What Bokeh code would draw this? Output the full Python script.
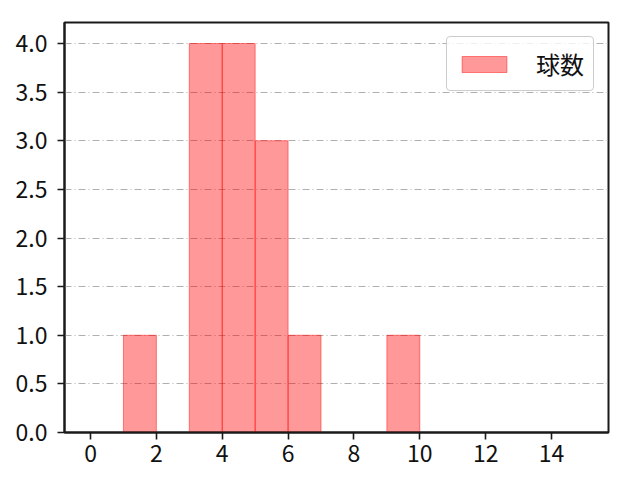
from bokeh.plotting import figure
from bokeh.models import Range1d, FixedTicker, Legend, LegendItem
from bokeh.embed import file_html
from bokeh.resources import INLINE

bin_left = [1, 3, 4, 5, 6, 9]
bin_right = [2, 4, 5, 6, 7, 10]
counts = [1, 4, 4, 3, 1, 1]
x_ticks = [0, 2, 4, 6, 8, 10, 12, 14]
y_ticks = [0.0, 0.5, 1.0, 1.5, 2.0, 2.5, 3.0, 3.5, 4.0]
label = "球数"

FONT = "Noto Sans CJK JP"

p = figure(width=630, height=470, output_backend="svg", toolbar_location=None,
           x_range=Range1d(-0.79, 15.73), y_range=Range1d(0, 4.216),
           min_border_left=64, min_border_right=22, min_border_top=22, min_border_bottom=38)

r = p.quad(left=bin_left, right=bin_right, bottom=0, top=counts,
           fill_color="#ff0000", fill_alpha=0.4, line_color="#ff0000", line_alpha=0.45, line_width=1)

p.xaxis.ticker = FixedTicker(ticks=x_ticks)
p.yaxis.ticker = FixedTicker(ticks=y_ticks)
p.yaxis.major_label_overrides = {t: f"{t:.1f}" for t in y_ticks}
for ax in (p.xaxis[0], p.yaxis[0]):
    ax.major_label_text_font = FONT
    ax.major_label_text_font_size = "23px"
    ax.major_label_text_color = "#111111"
    ax.axis_line_color = "#1a1a1a"
    ax.axis_line_width = 2
    ax.major_tick_line_color = "#1a1a1a"
    ax.major_tick_line_width = 1.6
    ax.major_tick_out = 7
    ax.major_tick_in = 0
    ax.minor_tick_line_color = None
p.xaxis.major_label_standoff = 5
p.yaxis.major_label_standoff = 10

p.xgrid.grid_line_color = None
p.ygrid.grid_line_color = "#b0b0b0"
p.ygrid.grid_line_dash = "7 3 1 3"
p.ygrid.grid_line_width = 1.1

p.outline_line_color = "#1a1a1a"
p.outline_line_width = 2
p.outline_line_alpha = 1

legend = Legend(items=[LegendItem(label=label, renderers=[r])], location="top_right")
legend.label_text_font = FONT
legend.label_text_font_size = "24px"
legend.label_text_color = "#111111"
legend.glyph_width = 56
legend.glyph_height = 20
legend.label_standoff = 24
legend.padding = 9
legend.margin = 14
legend.border_line_color = "#cccccc"
legend.border_line_alpha = 1
legend.border_radius = 4
legend.background_fill_alpha = 0.8
p.add_layout(legend)

open("out.html", "w").write(file_html(p, INLINE))
